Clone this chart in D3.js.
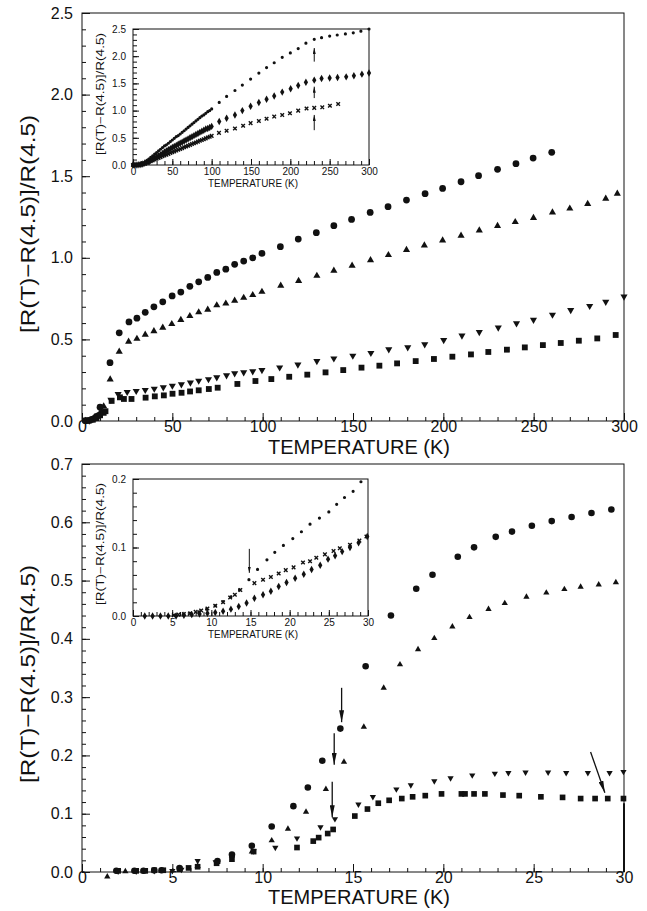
<!DOCTYPE html>
<html>
<head>
<meta charset="utf-8">
<script src="https://cdnjs.cloudflare.com/ajax/libs/d3/7.8.5/d3.min.js"></script>
<style>
body { margin: 0; background: #fff; }
text { font-family: "Liberation Sans", Arial, sans-serif; fill: #111; }
</style>
</head>
<body>
<div id="chart"></div>
<script>
// ---- top panel, main plot (T >= 15 K) ----
var circT = [2, 4, 6, 8, 10, 15.5, 20.6, 26, 30.4, 35, 39.8, 44.7, 49.9, 54.7, 59.7, 64.6, 69.6, 74.6, 79.6, 84.5, 89.5, 94.5, 99.6, 109.8, 119.7, 129.7, 139.4, 149.2, 159.5, 169.4, 179.6, 189.9, 199.6, 209.8, 219.5, 230, 240.2, 249.7, 260],
	circV = [0.002, 0.004, 0.012, 0.028, 0.085, 0.357, 0.54, 0.607, 0.63, 0.666, 0.70, 0.73, 0.766, 0.79, 0.825, 0.853, 0.88, 0.91, 0.93, 0.96, 0.98, 1.0, 1.027, 1.068, 1.115, 1.154, 1.197, 1.235, 1.278, 1.313, 1.354, 1.393, 1.425, 1.466, 1.503, 1.542, 1.577, 1.611, 1.646];
var triT = [2, 4, 6, 8, 10, 12, 15.6, 20.6, 25.8, 30.4, 35, 39.8, 44.7, 49.7, 54.7, 59.7, 64.6, 69.6, 74.6, 79.6, 84.5, 89.5, 94.5, 99.6, 110, 119.9, 130, 139.4, 149.5, 159.7, 169.6, 179.6, 189.5, 199.6, 209.8, 219.9, 230, 239.8, 249.9, 260.4, 270, 279.9, 289.9, 296.3],
	triV = [0.001, 0.002, 0.012, 0.025, 0.05, 0.09, 0.255, 0.425, 0.486, 0.504, 0.529, 0.55, 0.572, 0.594, 0.619, 0.643, 0.666, 0.682, 0.709, 0.72, 0.737, 0.755, 0.772, 0.792, 0.829, 0.858, 0.89, 0.921, 0.952, 0.986, 1.017, 1.048, 1.076, 1.107, 1.136, 1.168, 1.195, 1.219, 1.244, 1.278, 1.302, 1.33, 1.362, 1.393];
var downT = [2, 4, 6, 8, 10, 12, 16, 20, 25, 30, 35, 40, 45, 50, 55, 60, 64.6, 70, 74.6, 80, 84.5, 89.5, 94.5, 99.6, 109.4, 119.5, 130, 139.4, 149.9, 159.9, 169.8, 180.3, 189.7, 200.2, 210.3, 219.9, 230.4, 240.5, 249.9, 260.4, 270.5, 281, 289.9, 300],
	downV = [0.001, 0.002, 0.015, 0.022, 0.04, 0.06, 0.13, 0.165, 0.178, 0.184, 0.19, 0.198, 0.206, 0.216, 0.225, 0.235, 0.247, 0.256, 0.267, 0.28, 0.292, 0.298, 0.304, 0.312, 0.328, 0.346, 0.367, 0.383, 0.40, 0.417, 0.439, 0.451, 0.47, 0.496, 0.523, 0.545, 0.572, 0.598, 0.62, 0.651, 0.68, 0.705, 0.73, 0.762];
var sqT = [2, 4, 6, 8, 10, 12, 13, 16.4, 21, 23.2, 27.4, 35.2, 40.3, 45.3, 50.1, 55.1, 59.8, 64.6, 70.2, 75.1, 86, 96, 104.8, 114.7, 124.7, 134.8, 144.6, 154.7, 164.6, 174.4, 184.7, 194.8, 205, 215.3, 224.9, 235.2, 245.1, 255.1, 265, 275, 285.2, 295.4],
	sqV = [0.002, 0.003, 0.008, 0.018, 0.035, 0.05, 0.06, 0.123, 0.145, 0.135, 0.135, 0.143, 0.151, 0.157, 0.167, 0.173, 0.181, 0.188, 0.196, 0.204, 0.227, 0.245, 0.257, 0.271, 0.284, 0.298, 0.312, 0.327, 0.339, 0.353, 0.367, 0.38, 0.394, 0.408, 0.423, 0.437, 0.451, 0.465, 0.478, 0.492, 0.506, 0.527];

// ---- top panel, inset (0-300 K) ----
var insDotT = [0, 2.5, 5, 7.5, 10, 12.5, 15, 17.5, 20, 22.5, 25, 27.5, 30, 32.5, 35, 37.5, 40, 42.5, 45, 47.5, 50, 52.5, 55, 57.5, 60, 62.5, 65, 67.5, 70, 72.5, 75, 77.5, 80, 82.5, 85, 87.5, 90, 92.5, 95, 97.5, 100, 109.6, 119, 129.6, 139, 149.5, 160, 169.8, 179.5, 189.7, 200, 210, 219.8, 230.4, 239.7, 250, 259.6, 270, 280, 289.7, 300],
	insDotV = [0, 0, 0, 0.005, 0.015, 0.03, 0.05, 0.08, 0.11, 0.14, 0.17, 0.2, 0.23, 0.26, 0.29, 0.32, 0.35, 0.37, 0.4, 0.43, 0.46, 0.49, 0.52, 0.54, 0.57, 0.6, 0.63, 0.66, 0.69, 0.72, 0.75, 0.78, 0.81, 0.84, 0.87, 0.9, 0.92, 0.95, 0.98, 1.0, 1.03, 1.15, 1.26, 1.37, 1.47, 1.58, 1.69, 1.79, 1.88, 1.98, 2.06, 2.14, 2.24, 2.31, 2.34, 2.37, 2.39, 2.41, 2.43, 2.46, 2.5];
var insDiaT = [0, 2.5, 5, 7.5, 10, 12.5, 15, 17.5, 20, 22.5, 25, 27.5, 30, 32.5, 35, 37.5, 40, 42.5, 45, 47.5, 50, 52.5, 55, 57.5, 60, 62.5, 65, 67.5, 70, 72.5, 75, 77.5, 80, 82.5, 85, 87.5, 90, 92.5, 95, 97.5, 100, 109.6, 119, 129.6, 139, 149.5, 160, 169.8, 179.5, 189.7, 200.4, 210, 219.8, 230.4, 239.7, 250, 260, 271, 280.8, 291, 300],
	insDiaV = [0, 0, 0, 0.005, 0.01, 0.02, 0.035, 0.05, 0.07, 0.09, 0.11, 0.13, 0.15, 0.17, 0.19, 0.21, 0.24, 0.26, 0.28, 0.3, 0.32, 0.34, 0.36, 0.38, 0.40, 0.42, 0.44, 0.46, 0.48, 0.5, 0.52, 0.54, 0.56, 0.58, 0.6, 0.62, 0.64, 0.66, 0.67, 0.69, 0.71, 0.80, 0.86, 0.92, 1.0, 1.08, 1.15, 1.21, 1.27, 1.34, 1.40, 1.46, 1.52, 1.56, 1.59, 1.60, 1.61, 1.62, 1.64, 1.67, 1.69];
var insCrossT = [0, 2.5, 5, 7.5, 10, 12.5, 15, 17.5, 20, 22.5, 25, 27.5, 30, 32.5, 35, 37.5, 40, 42.5, 45, 47.5, 50, 52.5, 55, 57.5, 60, 62.5, 65, 67.5, 70, 72.5, 75, 77.5, 80, 82.5, 85, 87.5, 90, 92.5, 95, 97.5, 100, 109.3, 119, 129.6, 140, 149.5, 160, 169.8, 179.5, 189.7, 199.5, 210, 220.6, 230.4, 240.6, 250.3, 260.8],
	insCrossV = [0, 0, 0, 0.004, 0.008, 0.015, 0.025, 0.04, 0.055, 0.07, 0.085, 0.1, 0.115, 0.13, 0.145, 0.16, 0.175, 0.19, 0.205, 0.22, 0.235, 0.25, 0.265, 0.28, 0.295, 0.31, 0.325, 0.34, 0.355, 0.37, 0.385, 0.4, 0.415, 0.43, 0.445, 0.46, 0.475, 0.49, 0.505, 0.52, 0.535, 0.59, 0.63, 0.67, 0.72, 0.77, 0.81, 0.85, 0.89, 0.92, 0.95, 1.0, 1.04, 1.05, 1.06, 1.09, 1.12];

// ---- bottom panel, main plot (0-30 K) ----
var bCircT = [1.9, 2.9, 3.4, 4.0, 4.4, 5.4, 7.5, 8.3, 9.4, 10.5, 11.7, 12.5, 13.3, 14.3, 15.7, 17.1, 18.5, 19.4, 20.8, 21.7, 22.9, 23.8, 24.9, 26.0, 27.1, 28.2, 29.3],
	bCircV = [0.002, 0.002, 0.002, 0.003, 0.003, 0.007, 0.019, 0.030, 0.045, 0.078, 0.113, 0.145, 0.191, 0.246, 0.353, 0.44, 0.486, 0.51, 0.541, 0.557, 0.575, 0.584, 0.594, 0.602, 0.609, 0.616, 0.622];
var bTriT = [1.4, 2.4, 3.4, 4.4, 5.4, 6.4, 7.5, 8.3, 9.4, 10.5, 11.4, 12.4, 13.5, 14.5, 15.6, 16.7, 17.6, 18.6, 19.5, 20.5, 21.45, 22.5, 23.4, 24.6, 25.7, 26.7, 27.6, 28.6, 29.55],
	bTriV = [-0.008, 0.001, 0.001, 0.002, 0.003, 0.010, 0.017, 0.028, 0.035, 0.054, 0.074, 0.103, 0.142, 0.189, 0.249, 0.316, 0.356, 0.382, 0.401, 0.421, 0.437, 0.451, 0.461, 0.472, 0.479, 0.485, 0.489, 0.493, 0.497];
var bDownT = [2, 3, 4, 5, 5.5, 6.4, 7.4, 8.3, 9.5, 10.7, 11.9, 13.2, 14.0, 15.3, 16.1, 17.4, 18.2, 19.5, 20.4, 21.6, 22.85, 23.6, 24.55, 25.8, 26.8, 28.0, 29.2, 29.97],
	bDownV = [0.001, 0.001, 0.002, 0.002, 0.004, 0.019, 0.017, 0.025, 0.036, 0.042, 0.058, 0.077, 0.091, 0.116, 0.129, 0.142, 0.149, 0.156, 0.161, 0.166, 0.169, 0.17, 0.171, 0.171, 0.17, 0.17, 0.17, 0.172];
var bSqT = [2, 3, 3.5, 4, 4.5, 5.4, 5.9, 6.4, 7.45, 8.3, 9.5, 11.9, 12.8, 13.1, 13.6, 13.9, 15.1, 15.8, 16.4, 17.0, 17.7, 18.3, 19.0, 19.9, 21.0, 21.2, 21.7, 22.3, 23.3, 24.2, 25.4, 26.6, 27.6, 28.4, 29.1, 29.97],
	bSqV = [0.002, 0.002, 0.002, 0.003, 0.003, 0.005, 0.007, 0.009, 0.015, 0.022, 0.035, 0.042, 0.053, 0.059, 0.066, 0.073, 0.096, 0.108, 0.118, 0.123, 0.126, 0.129, 0.131, 0.134, 0.134, 0.134, 0.134, 0.134, 0.132, 0.131, 0.129, 0.128, 0.126, 0.126, 0.126, 0.126];

// ---- bottom panel, inset (0-30 K) ----
var bInsDotT = [1.5, 2.5, 3.5, 4.5, 5.4, 6.4, 7.4, 8.4, 9.4, 10.5, 11.5, 12.5, 13.6, 14.8, 15.9, 17.1, 18.1, 19.2, 20.4, 21.5, 22.6, 23.8, 25, 26, 27, 28.1, 29.1],
	bInsDotV = [0, 0, 0, 0, 0.001, 0.002, 0.004, 0.006, 0.010, 0.015, 0.021, 0.028, 0.038, 0.053, 0.068, 0.082, 0.093, 0.103, 0.113, 0.123, 0.134, 0.143, 0.152, 0.163, 0.173, 0.182, 0.196];
var bInsCrossT = [5.2, 5.8, 6.5, 7.3, 8.0, 8.7, 9.5, 10.5, 11.5, 12.4, 13.0, 13.7, 15.5, 16.6, 17.6, 18.6, 19.5, 20.5, 21.7, 22.6, 23.4, 24.5, 25.6, 26.4, 27.7, 28.9, 29.8],
	bInsCrossV = [0.001, 0.002, 0.003, 0.004, 0.006, 0.008, 0.011, 0.015, 0.020, 0.027, 0.031, 0.038, 0.048, 0.053, 0.057, 0.062, 0.067, 0.071, 0.078, 0.080, 0.085, 0.090, 0.095, 0.099, 0.104, 0.110, 0.116];
var bInsDiaT = [1.5, 2.5, 3.5, 4.5, 5.5, 6.5, 7.5, 8.5, 9.5, 10.5, 11.5, 12.5, 13.5, 14.5, 15.5, 16.6, 17.6, 18.6, 19.6, 20.7, 21.8, 22.8, 23.9, 24.9, 25.8, 26.7, 27.7, 28.8, 29.9],
	bInsDiaV = [0, 0, 0, 0, 0, 0.001, 0.002, 0.003, 0.004, 0.005, 0.007, 0.010, 0.014, 0.019, 0.026, 0.031, 0.036, 0.043, 0.049, 0.055, 0.061, 0.068, 0.074, 0.083, 0.088, 0.094, 0.1, 0.107, 0.116];

// texts
var yTitle = "[R(T)\u2212R(4.5)]/R(4.5)",
	xTitle = "TEMPERATURE  (K)";

var W = 647, H = 911,
	ink = "#111";

var svg = d3.select("#chart").append("svg")
	.attr("width", W)
	.attr("height", H);

svg.append("defs").selectAll("marker")
	.data([{id: "headBig", w: 12, h: 5}, {id: "headSmall", w: 6, h: 3}])
	.enter().append("marker")
	.attr("id", function(d) { return d.id; })
	.attr("markerUnits", "userSpaceOnUse")
	.attr("markerWidth", function(d) { return d.w; })
	.attr("markerHeight", function(d) { return d.h; })
	.attr("refX", function(d) { return d.w; })
	.attr("refY", function(d) { return d.h / 2; })
	.attr("orient", "auto")
	.append("path")
	.attr("d", function(d) { return "M0,0L" + d.w + "," + (d.h / 2) + "L0," + d.h + "Z"; })
	.attr("fill", ink);

// builds frame, inward ticks and labels; returns scales + group
var makePanel = function(o) {
	var x = d3.scaleLinear().domain([0, o.xMax]).range([o.box.l, o.box.r]),
		y = d3.scaleLinear().domain([0, o.yMax]).range([o.box.b, o.box.t]);
	var g = svg.append("g");

	g.append("rect")
		.attr("x", o.box.l).attr("y", o.box.t)
		.attr("width", o.box.r - o.box.l).attr("height", o.box.b - o.box.t)
		.attr("fill", "#fff")
		.attr("stroke", ink)
		.attr("stroke-width", 1);

	var clean = function(sel) {
		sel.select(".domain").remove();
		sel.selectAll("line").attr("stroke", ink);
		sel.selectAll("text")
			.attr("font-family", "'Liberation Sans', Arial, sans-serif")
			.attr("font-size", o.font)
			.attr("fill", ink);
	};

	g.append("g")
		.attr("transform", "translate(0," + o.box.b + ")")
		.call(d3.axisBottom(x).tickValues(d3.range(0, o.xMax + 1e-9, o.xMinor)).tickSize(-o.minorLen).tickFormat(""))
		.call(clean);
	g.append("g")
		.attr("transform", "translate(0," + o.box.b + ")")
		.call(d3.axisBottom(x).tickValues(d3.range(0, o.xMax + 1e-9, o.xMajor)).tickSize(-o.majorLen).tickPadding(o.xPad).tickFormat(d3.format("d")))
		.call(clean);
	g.append("g")
		.attr("transform", "translate(" + o.box.l + ",0)")
		.call(d3.axisLeft(y).tickValues(d3.range(0, o.yMax + 1e-9, o.yMinor)).tickSize(-o.minorLen).tickFormat(""))
		.call(clean);
	g.append("g")
		.attr("transform", "translate(" + o.box.l + ",0)")
		.call(d3.axisLeft(y).tickValues(d3.range(0, o.yMax + 1e-9, o.yMajor)).tickSize(-o.majorLen).tickPadding(o.yPad).tickFormat(d3.format(".1f")))
		.call(clean);

	// axis titles
	g.append("text")
		.attr("x", o.xt[0]).attr("y", o.xt[1])
		.attr("text-anchor", "middle")
		.attr("font-size", o.titleFont)
		.attr("textLength", o.xt[2])
		.attr("lengthAdjust", "spacingAndGlyphs")
		.text(xTitle);
	g.append("text")
		.attr("transform", "translate(" + o.yt[0] + "," + o.yt[1] + ") rotate(-90)")
		.attr("text-anchor", "middle")
		.attr("font-size", o.titleFont)
		.attr("textLength", o.yt[2])
		.attr("lengthAdjust", "spacingAndGlyphs")
		.text(yTitle);

	return {x: x, y: y, g: g};
};

var plotSeries = function(p, xs, ys, type, size, flip) {
	var stroked = (type === d3.symbolTimes);
	p.g.append("g").selectAll("path")
		.data(xs)
		.enter().append("path")
		.attr("d", d3.symbol().type(type).size(size))
		.attr("transform", function(d, i) {
			return "translate(" + p.x(d) + "," + p.y(ys[i]) + ")" + (flip ? " rotate(180)" : "");
		})
		.attr("fill", stroked ? "none" : ink)
		.attr("stroke", stroked ? ink : "none")
		.attr("stroke-width", 1.4);
};

var arrow = function(p, x1, y1, x2, y2, head, w) {
	p.g.append("line")
		.attr("x1", p.x(x1)).attr("y1", p.y(y1))
		.attr("x2", p.x(x2)).attr("y2", p.y(y2))
		.attr("stroke", ink)
		.attr("stroke-width", w)
		.attr("marker-end", "url(#" + head + ")");
};

/* ---------- TOP PANEL ---------- */
var topMain = makePanel({
	box: {l: 82, r: 624, t: 13, b: 421},
	xMax: 300, yMax: 2.5, xMajor: 50, xMinor: 10, yMajor: 0.5, yMinor: 0.1,
	majorLen: 8, minorLen: 4, xPad: 0, yPad: 9, font: 16,
	titleFont: 21, xt: [359, 454, 182], yt: [35, 224, 218]
});
plotSeries(topMain, circT, circV, d3.symbolCircle, 36);
plotSeries(topMain, triT, triV, d3.symbolTriangle, 22);
plotSeries(topMain, downT, downV, d3.symbolTriangle, 22, true);
plotSeries(topMain, sqT, sqV, d3.symbolSquare, 34);

var topInset = makePanel({
	box: {l: 133, r: 369, t: 29, b: 165},
	xMax: 300, yMax: 2.5, xMajor: 50, xMinor: 10, yMajor: 0.5, yMinor: 0.1,
	majorLen: 6, minorLen: 4, xPad: 3, yPad: 7, font: 10,
	titleFont: 10, xt: [253, 187, 90], yt: [104, 94, 122]
});
plotSeries(topInset, insDotT, insDotV, d3.symbolCircle, 8);
plotSeries(topInset, insDiaT, insDiaV, d3.symbolDiamond, 16);
plotSeries(topInset, insCrossT, insCrossV, d3.symbolTimes, 10);
arrow(topInset, 230.4, 1.90, 230.4, 2.15, "headSmall", 1);
arrow(topInset, 230.4, 1.23, 230.4, 1.44, "headSmall", 1);
arrow(topInset, 230.4, 0.64, 230.4, 0.92, "headSmall", 1);

/* ---------- BOTTOM PANEL ---------- */
var botMain = makePanel({
	box: {l: 82, r: 624, t: 464, b: 872},
	xMax: 30, yMax: 0.7, xMajor: 5, xMinor: 1, yMajor: 0.1, yMinor: 0.02,
	majorLen: 8, minorLen: 4, xPad: 0, yPad: 9, font: 16,
	titleFont: 21, xt: [359, 904, 182], yt: [35, 674, 218]
});
plotSeries(botMain, bCircT, bCircV, d3.symbolCircle, 34);
plotSeries(botMain, bTriT, bTriV, d3.symbolTriangle, 17);
plotSeries(botMain, bDownT, bDownV, d3.symbolTriangle, 17, true);
plotSeries(botMain, bSqT, bSqV, d3.symbolSquare, 32);
arrow(botMain, 14.37, 0.316, 14.37, 0.257, "headBig", 1.3);
arrow(botMain, 13.96, 0.238, 13.96, 0.184, "headBig", 1.3);
arrow(botMain, 13.85, 0.155, 13.85, 0.094, "headBig", 1.3);
arrow(botMain, 28.15, 0.206, 28.94, 0.136, "headBig", 1.3);
// darker stretch of the right frame
botMain.g.append("line")
	.attr("x1", botMain.x(30)).attr("x2", botMain.x(30))
	.attr("y1", botMain.y(0.118)).attr("y2", botMain.y(0))
	.attr("stroke", ink).attr("stroke-width", 2);

var botInset = makePanel({
	box: {l: 133, r: 368, t: 479, b: 616},
	xMax: 30, yMax: 0.2, xMajor: 5, xMinor: 1, yMajor: 0.1, yMinor: 0.02,
	majorLen: 6, minorLen: 4, xPad: 3, yPad: 7, font: 10,
	titleFont: 10, xt: [253, 638, 90], yt: [104, 544, 122]
});
plotSeries(botInset, bInsDotT, bInsDotV, d3.symbolCircle, 8);
plotSeries(botInset, bInsCrossT, bInsCrossV, d3.symbolTimes, 10);
plotSeries(botInset, bInsDiaT, bInsDiaV, d3.symbolDiamond, 16);
arrow(botInset, 14.85, 0.098, 14.85, 0.063, "headSmall", 1);
</script>
</body>
</html>
